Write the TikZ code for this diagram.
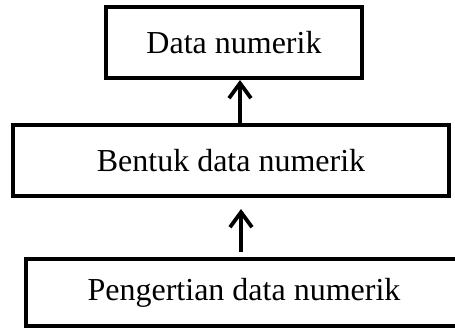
\documentclass[tikz,border=0pt]{standalone}
\usepackage{fontspec}
\setmainfont{Liberation Serif}
\usetikzlibrary{arrows.meta, positioning}

\tikzset{
  kotak/.style={draw,line width=4pt,minimum height=71pt,inner sep=0pt,font=\fontsize{32}{38}\selectfont},
  panah/.style={line width=3.8pt,-{Straight Barb[length=15pt,width=22pt]}}
}

\begin{document}
\begin{tikzpicture}[x=1pt,y=1pt]
  \useasboundingbox (0,0) rectangle (455,330);
  \node[kotak,minimum width=256pt] (data) at (234,287.5){Data numerik};
  \node[kotak,minimum width=436pt] (bentuk) at (231,169.5){Bentuk data numerik};
  \node[kotak,minimum width=436pt,minimum height=67pt] (pengertian) at (244,37.5){Pengertian data numerik};
  \draw[panah] ([xshift=9pt]bentuk.north) -- ([xshift=6pt]data.south);
  \draw[panah,shorten <=5pt,shorten >=11pt] ([xshift=-3pt]pengertian.north) -- ([xshift=10pt]bentuk.south);
\end{tikzpicture}
\end{document}
